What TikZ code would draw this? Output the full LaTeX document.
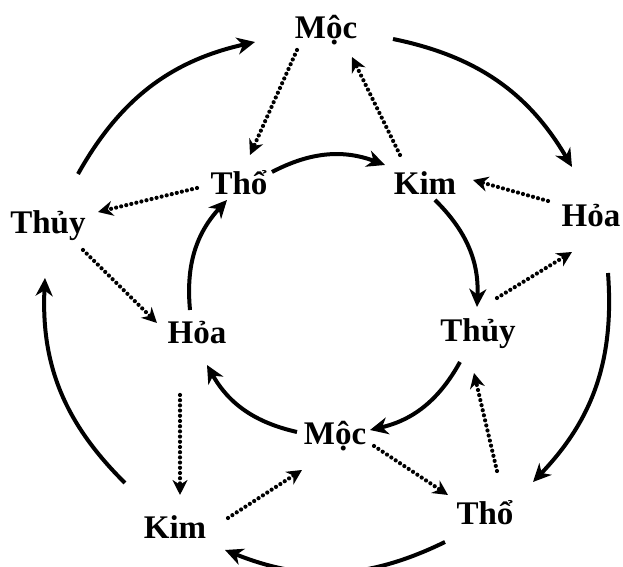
\documentclass[tikz,border=0pt]{standalone}
\usepackage{fontspec}
\setmainfont{Liberation Serif}
\usetikzlibrary{arrows.meta,calc}

\tikzset{
  elem/.style={font=\fontsize{16.5}{18}\selectfont\bfseries, inner sep=0pt, anchor=base},
  sinh/.style={line width=2pt, bend left=24, -{Stealth[length=9pt,width=8.5pt,inset=2.8pt]}},
  khac/.style={line width=2.1pt, line cap=round, dash pattern=on 0pt off 2.6pt, -{Stealth[length=7.5pt,width=7.5pt,inset=2.4pt]}},
}

\begin{document}
\begin{tikzpicture}[x=0.5pt,y=0.5pt]
		\useasboundingbox (0,0) rectangle (623,567);
		% outer ring
		\node[elem] (moc1) at (326,528) {Mộc};
		\node[elem] (hoa1) at (591,340) {Hỏa};
		\node[elem] (tho1) at (485,42) {Thổ};
		\node[elem] (kim1) at (175,28) {Kim};
		\node[elem] (thuy1) at (48,333) {Thủy};
		% inner ring
		\node[elem] (tho2) at (239,372) {Thổ};
		\node[elem] (kim2) at (425,372) {Kim};
		\node[elem] (thuy2) at (478,225) {Thủy};
		\node[elem] (moc2) at (335,122) {Mộc};
		\node[elem] (hoa2) at (197,223) {Hỏa};
		
		% outer cycle
		\draw[sinh] ($(thuy1.base)+(30,60)$) to ($(moc1.base)+(-71,-3)$);
		\draw[sinh] ($(moc1.base)+(67,0)$) to ($(hoa1.base)+(-19,60)$);
		\draw[sinh] ($(hoa1.base)+(17,-46)$) to ($(tho1.base)+(48,43)$);
		\draw[sinh] ($(tho1.base)+(-40,-17)$) to ($(kim1.base)+(50,-11)$);
		\draw[sinh] ($(kim1.base)+(-50,56)$) to ($(thuy1.base)+(-3,-44)$);
		
		% inner cycle
		\draw[sinh] ($(tho2.base)+(33,23)$) to ($(kim2.base)+(-40,30)$);
		\draw[sinh] ($(kim2.base)+(10,-5)$) to ($(thuy2.base)+(-1,35)$);
		\draw[sinh] ($(thuy2.base)+(-18,-20)$) to ($(moc2.base)+(35,15)$);
		\draw[sinh] ($(moc2.base)+(-38,13)$) to ($(hoa2.base)+(10,-21)$);
		\draw[sinh] ($(hoa2.base)+(-7,34)$) to ($(tho2.base)+(-12,-5)$);
		
		% dotted links between the rings
		\draw[khac] ($(moc1.base)+(-29,-11)$) -- ($(tho2.base)+(11,40)$);
		\draw[khac] ($(kim2.base)+(-25,40)$) -- ($(moc1.base)+(26,-18)$);
		\draw[khac] ($(tho2.base)+(-42,7)$) -- ($(thuy1.base)+(50,22)$);
		\draw[khac] ($(thuy1.base)+(35,-16)$) -- ($(hoa2.base)+(-40,21)$);
		\draw[khac] ($(hoa1.base)+(-43,26)$) -- ($(kim2.base)+(48,15)$);
		\draw[khac] ($(thuy2.base)+(19,44)$) -- ($(hoa1.base)+(-19,-25)$);
		\draw[khac] ($(hoa2.base)+(-17,-51)$) -- ($(kim1.base)+(5,44)$);
		\draw[khac] ($(kim1.base)+(53,21)$) -- ($(moc2.base)+(-33,-25)$);
		\draw[khac] ($(moc2.base)+(39,-1)$) -- ($(tho1.base)+(-37,30)$);
		\draw[khac] ($(tho1.base)+(12,54)$) -- ($(thuy2.base)+(-4,-31)$);
		
		\end{tikzpicture}
\end{document}
